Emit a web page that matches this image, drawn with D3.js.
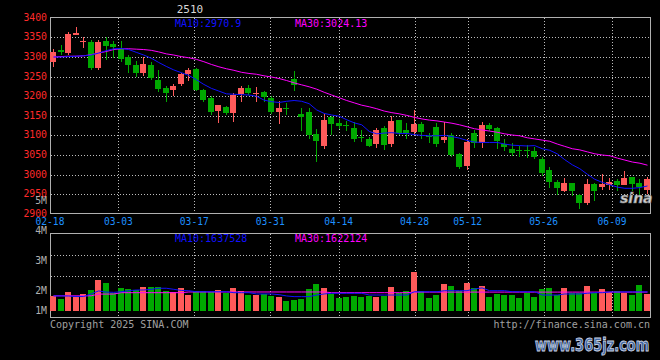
<!DOCTYPE html>
<html><head><meta charset="utf-8">
<script src="https://cdn.jsdelivr.net/npm/d3@7"></script>
<style>html,body{margin:0;padding:0;background:#000;} svg{display:block;}</style>
</head><body>
<svg id="c" width="660" height="360"></svg>
<script>
// ---------- data ----------
const title = "2510";
const dates = ["02-18","02-19","02-20","02-21","02-24","02-25","02-26","02-27","02-28",
 "03-03","03-04","03-05","03-06","03-07","03-10","03-11","03-12","03-13","03-14",
 "03-17","03-18","03-19","03-20","03-21","03-24","03-25","03-26","03-27","03-28","03-31",
 "04-01","04-02","04-03","04-07","04-08","04-09","04-10","04-11","04-14","04-15","04-16",
 "04-17","04-18","04-21","04-22","04-23","04-24","04-25","04-28","04-29","04-30",
 "05-06","05-07","05-08","05-09","05-12","05-13","05-14","05-15","05-16","05-19","05-20",
 "05-21","05-22","05-23","05-26","05-27","05-28","05-29","05-30",
 "06-03","06-04","06-05","06-06","06-09","06-10","06-11","06-12","06-13","06-16"];
const open  = [3288,3318,3310,3356,3339,3338,3272,3341,3334,3320,3300,3279,3260,3280,3241,3220,3216,3231,3257,3269,
               3216,3196,3161,3173,3156,3206,3221,3205,3210,3196,3160,3169,3244,3155,3159,3104,3074,3148,3132,3127,
               3118,3097,3091,3078,3118,3078,3139,3114,3108,3129,3099,3122,3089,3100,3052,3022,3107,3081,3126,3118,
               3078,3065,3064,3064,3060,3040,3012,2981,2959,2978,2948,2927,2975,2969,2974,2984,2974,2993,2978,2961];
const high  = [3320,3330,3364,3377,3352,3343,3344,3352,3340,3340,3306,3290,3300,3288,3267,3227,3231,3258,3273,3271,
               3218,3200,3178,3176,3208,3226,3228,3224,3213,3200,3188,3183,3265,3169,3171,3116,3155,3150,3143,3137,
               3135,3113,3097,3120,3124,3149,3140,3131,3165,3135,3106,3131,3135,3105,3055,3090,3114,3135,3132,3121,
               3092,3080,3074,3075,3071,3046,3020,2985,2991,2979,2950,2989,2978,3001,2991,2990,3009,2994,2988,2995];
const low   = [3275,3305,3305,3355,3322,3268,3266,3292,3298,3288,3260,3250,3252,3241,3210,3186,3200,3226,3240,3212,
               3186,3152,3132,3153,3135,3185,3203,3185,3184,3154,3129,3152,3214,3111,3091,3033,3066,3101,3116,3112,
               3084,3084,3071,3069,3063,3070,3100,3091,3101,3091,3080,3071,3080,3046,3014,3012,3068,3069,3112,3066,
               3060,3048,3044,3042,3040,2996,2965,2949,2955,2946,2911,2923,2933,2961,2961,2957,2973,2958,2945,2950];
const close = [3313,3314,3358,3361,3341,3272,3339,3328,3326,3295,3280,3258,3281,3246,3218,3209,3226,3256,3268,3216,
               3190,3160,3178,3156,3203,3222,3209,3208,3197,3160,3169,3167,3229,3146,3100,3086,3139,3129,3125,3126,
               3091,3095,3074,3114,3075,3137,3107,3105,3129,3108,3096,3077,3097,3050,3019,3084,3080,3127,3117,3085,
               3070,3056,3062,3062,3046,3003,2980,2965,2978,2959,2927,2975,2959,2975,2980,2974,2991,2975,2969,2990];
const ma10  = [3300,3300,3301,3302,3303,3305,3310,3316,3321,3322,3319,3312,3305,3297,3286,3276,3267,3260,3253,3242,
               3230,3220,3213,3206,3205,3204,3203,3200,3190,3186,3184,3187,3189,3187,3181,3165,3156,3152,3149,3140,
               3132,3127,3110,3104,3106,3107,3105,3105,3102,3100,3099,3099,3100,3097,3093,3087,3083,3082,3082,3082,
               3078,3075,3074,3073,3074,3066,3062,3053,3038,3025,3015,3001,2988,2980,2974,2968,2965,2965,2967,2971];
const ma30  = [3300,3301,3302,3302,3303,3306,3310,3314,3319,3321,3321,3320,3319,3317,3313,3308,3305,3301,3298,3294,
               3288,3281,3275,3270,3266,3261,3258,3256,3252,3249,3245,3240,3234,3229,3224,3218,3210,3203,3196,3189,
               3183,3177,3173,3168,3162,3158,3155,3151,3146,3142,3139,3137,3134,3131,3127,3122,3117,3114,3111,3108,
               3104,3101,3099,3094,3091,3088,3085,3078,3072,3066,3063,3058,3053,3050,3048,3042,3037,3032,3029,3024];
// volume, millions
const volume = [1.29,1.03,1.63,1.23,1.46,1.80,2.66,2.40,1.57,1.97,1.89,1.77,2.06,2.06,2.06,1.74,1.65,1.97,1.37,1.71,
                1.71,1.60,1.80,1.52,1.97,1.71,1.35,1.37,1.46,1.31,1.23,0.86,0.97,1.05,1.89,2.31,1.97,1.45,1.14,1.23,
                1.31,1.23,1.31,1.23,1.31,2.08,1.57,1.74,3.37,1.71,1.14,1.37,2.34,2.17,1.74,2.43,1.95,2.14,1.17,1.46,
                1.37,1.37,1.14,1.52,1.23,1.89,2.00,1.37,2.00,1.57,1.57,2.17,1.57,1.89,1.65,1.74,1.57,1.37,2.23,1.46];
const volMa10 = [1.29,1.29,1.29,1.24,1.24,1.46,1.72,1.62,1.60,1.65,1.74,1.80,1.80,1.86,1.95,1.95,1.86,1.76,1.74,1.65,
                 1.65,1.65,1.65,1.65,1.57,1.57,1.57,1.46,1.46,1.46,1.40,1.29,1.23,1.23,1.23,1.37,1.46,1.52,1.52,1.52,
                 1.52,1.52,1.37,1.37,1.37,1.37,1.37,1.37,1.65,1.65,1.65,1.65,1.74,1.74,1.74,1.74,1.89,1.98,1.74,1.74,
                 1.74,1.65,1.65,1.65,1.65,1.37,1.37,1.37,1.46,1.46,1.46,1.52,1.57,1.57,1.63,1.63,1.64,1.64,1.64,1.64];
const volMa30 = [1.30,1.30,1.30,1.30,1.30,1.30,1.45,1.45,1.45,1.57,1.57,1.57,1.57,1.57,1.57,1.57,1.57,1.57,1.63,1.63,
                 1.63,1.63,1.63,1.63,1.63,1.63,1.63,1.63,1.63,1.63,1.63,1.63,1.63,1.63,1.63,1.63,1.63,1.57,1.57,1.57,
                 1.57,1.57,1.57,1.57,1.57,1.57,1.57,1.57,1.62,1.62,1.62,1.62,1.62,1.62,1.62,1.62,1.62,1.62,1.62,1.62,
                 1.62,1.62,1.62,1.62,1.62,1.62,1.62,1.62,1.62,1.62,1.62,1.62,1.62,1.62,1.62,1.62,1.62,1.62,1.62,1.62];
const priceTicks = [3400,3350,3300,3250,3200,3150,3100,3050,3000,2950,2900];
const dateTicks = ["02-18","03-03","03-17","03-31","04-14","04-28","05-12","05-26","06-09"];
const volTicks = [5,4,3,2,1];
const priceLegend = ["MA10:2970.9","MA30:3024.13"];
const volLegend = ["MA10:1637528","MA30:1622124"];

// ---------- drawing ----------
const UP="#ff5a5a", DOWN="#00a800", GRID="#bdbdbd", BORDER="#b0b0b0";
const FONT="DejaVu Sans Mono";
const svg = d3.select("#c");
svg.append("rect").attr("width",660).attr("height",360).attr("fill","#000");

const x = d3.scaleBand().domain(dates).range([50,650]).paddingInner(0.2);
const xLab = d3.scalePoint().domain(dates).range([50,650]);
const y = d3.scaleLinear().domain([2900,3400]).range([213.8,17.8]);
const yv = d3.scaleLinear().domain([0,6.6]).range([311,234]);
const yvLab = d3.scaleLinear().domain([2,4]).range([290.5,230.5]);
const px = d => Math.round(x(d));
const data = dates.map((d,i)=>({d,o:open[i],h:high[i],l:low[i],c:close[i],v:volume[i]}));

// grids
const g = svg.append("g").attr("stroke",GRID).attr("stroke-dasharray","1,2").attr("shape-rendering","crispEdges");
priceTicks.slice(1,-1).forEach(v=>{
  const yy=Math.round(y(v))+0.5;
  g.append("line").attr("x1",51).attr("x2",650).attr("y1",yy).attr("y2",yy);
});
[0.25,0.5].forEach(f=>{
  const yy=Math.round(234+84*f)+0.5;
  g.append("line").attr("x1",51).attr("x2",650).attr("y1",yy).attr("y2",yy);
});
dateTicks.slice(1).forEach(d=>{
  const xx=Math.round(xLab(d))+0.5;
  g.append("line").attr("x1",xx).attr("x2",xx).attr("y1",18).attr("y2",213);
  g.append("line").attr("x1",xx).attr("x2",xx).attr("y1",234).attr("y2",318);
});

// borders
svg.append("rect").attr("x",50.5).attr("y",17.5).attr("width",600).attr("height",196)
  .attr("fill","none").attr("stroke",BORDER).attr("shape-rendering","crispEdges");
svg.append("rect").attr("x",50.5).attr("y",233.5).attr("width",600).attr("height",84)
  .attr("fill","none").attr("stroke",BORDER).attr("shape-rendering","crispEdges");

// candles + volume bars
const cg = svg.append("g").attr("shape-rendering","crispEdges");
data.forEach(k=>{
  const col = k.c>=k.o ? UP : DOWN;
  const left = px(k.d);
  const yh=Math.round(y(k.h)), yl=Math.round(y(k.l));
  cg.append("rect").attr("x",left+3).attr("y",yh).attr("width",1).attr("height",Math.max(1,yl-yh)).attr("fill",col);
  const t=Math.round(y(Math.max(k.o,k.c))), b=Math.round(y(Math.min(k.o,k.c)));
  cg.append("rect").attr("x",left).attr("y",t).attr("width",6).attr("height",Math.max(1,b-t)).attr("fill",col);
  const vt=Math.round(yv(k.v));
  cg.append("rect").attr("x",left).attr("y",vt).attr("width",6).attr("height",yv(0)-vt).attr("fill",col);
});

// MA lines
const cx = d => x(d)+3.5;
const line = (arr,sc)=>d3.line().x((v,i)=>cx(dates[i])).y(v=>sc(v))(arr);
svg.append("path").attr("d",line(ma30,y)).attr("fill","none").attr("stroke","#ff00ff").attr("stroke-width",1);
svg.append("path").attr("d",line(ma10,y)).attr("fill","none").attr("stroke","#1010ff").attr("stroke-width",1);
svg.append("path").attr("d",line(volMa30,yv)).attr("fill","none").attr("stroke","#ff00ff").attr("stroke-width",1);
svg.append("path").attr("d",line(volMa10,yv)).attr("fill","none").attr("stroke","#1010ff").attr("stroke-width",1);

// texts
const txt = (s,xx,yy,fill,anchor="start",base="auto",size=10)=>svg.append("text").text(s).attr("x",xx).attr("y",yy)
  .attr("fill",fill).attr("text-anchor",anchor).attr("dominant-baseline",base)
  .attr("font-family",FONT).attr("font-size",size);

txt(title,190,10,"#d8d8d8","middle","middle",11);
priceTicks.forEach(v=>txt(String(v),47,y(v),"#ff2a2a","end","middle",9.8));
dateTicks.forEach(d=>txt(d,xLab(d),225,"#1e90ff","middle","auto",9.6));
volTicks.forEach(v=>txt(v+"M",47,Math.min(yvLab(v),310.5),"#b0b0b0","end","middle",9.8));
txt(priceLegend[0],175,27,"#1010ff");
txt(priceLegend[1],295,27,"#ff00ff");
txt(volLegend[0],175,242,"#1010ff");
txt(volLegend[1],295,242,"#ff00ff");
txt("Copyright 2025 SINA.COM",50,328,"#a0a0a0");
txt("http://finance.sina.com.cn",650,328,"#a0a0a0","end");

// watermarks
svg.append("text").text("sina").attr("x",620).attr("y",203).attr("font-family","DejaVu Sans")
  .attr("font-weight","bold").attr("font-style","italic").attr("font-size",14)
  .attr("fill","#d0d0d0").attr("stroke","#808080").attr("stroke-width",0.6);
svg.append("text").text("www.365jz.com").attr("transform","translate(535,351) scale(1,1.3)")
  .attr("font-family","DejaVu Sans").attr("font-weight","bold").attr("font-size",13)
  .attr("fill","#3e64a0").attr("stroke","#c8d0e0").attr("stroke-width",0.7);
</script>
</body></html>
